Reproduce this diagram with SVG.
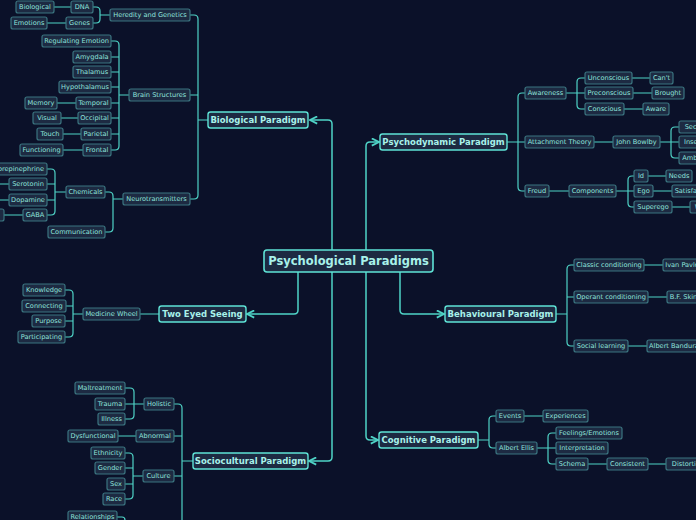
<svg xmlns="http://www.w3.org/2000/svg" width="696" height="520" viewBox="0 0 696 520">
<defs>
<style>
.s rect{fill:#1d2a42;stroke:#3b7580;stroke-width:1.2}
.s text{fill:#8fe3dc;font-family:"DejaVu Sans",sans-serif;font-size:6.6px;text-anchor:middle;dominant-baseline:central}
.m rect{fill:#1d2a42;stroke:#5fe3d6;stroke-width:1.4}
.m text{fill:#a8f1ea;font-family:"DejaVu Sans",sans-serif;font-size:8.5px;font-weight:bold;text-anchor:middle;dominant-baseline:central}
.c rect{fill:#1d2a42;stroke:#5fe3d6;stroke-width:1.6}
.c text{fill:#a8f1ea;font-family:"DejaVu Sans",sans-serif;font-size:11.5px;font-weight:bold;text-anchor:middle;dominant-baseline:central}
#conn path{fill:none;stroke:#4fd3c6;stroke-width:1.2}
#conn .a{stroke-width:1.5}
</style>
<marker id="ar" viewBox="0 0 10 10" refX="9" refY="5" markerWidth="6" markerHeight="6" orient="auto-start-reverse"><path d="M1,1 L9,5 L1,9" fill="none" stroke="#4fd3c6" stroke-width="2"/></marker>
</defs>
<rect width="696" height="520" fill="#0b1129"/>
<g id="conn">
<path class="a" d="M332,250 V124 Q332,120 328,120 H310" marker-end="url(#ar)"/>
<path class="a" d="M366,250 V146 Q366,142 370,142 H379" marker-end="url(#ar)"/>
<path class="a" d="M400,272 V310 Q400,314 404,314 H444" marker-end="url(#ar)"/>
<path class="a" d="M366,272 V436 Q366,440 370,440 H378" marker-end="url(#ar)"/>
<path class="a" d="M298,272 V310 Q298,314 294,314 H247" marker-end="url(#ar)"/>
<path class="a" d="M332,272 V457 Q332,461 328,461 H309" marker-end="url(#ar)"/>
<!-- biological -->
<path d="M208,120 H198 M190,15 H194 Q198,15 198,19 V195 Q198,199 194,199 H190 M190,95 H198"/>
<path d="M110,15 H100 M93,7 H96 Q100,7 100,11 V19 Q100,23 96,23 H93 M54,7 H71 M47,23 H66"/>
<path d="M129,95 H119 M111,41 H115 Q119,41 119,45 V146 Q119,150 115,150 H111 M111,57 H119 M111,72 H119 M111,87 H119 M111,103 H119 M111,118 H119 M111,134 H119 M57,103 H76 M61,118 H78 M63,134 H81 M63,150 H83"/>
<path d="M123,199 H113 M105,192 H109 Q113,192 113,196 V228 Q113,232 109,232 H105"/>
<path d="M66,192 H55 M47,169 H51 Q55,169 55,173 V211 Q55,215 51,215 H47 M47,184 H55 M47,200 H55 M0,184 H9 M0,200 H9 M4,215 H23"/>
<!-- psychodynamic -->
<path d="M507,142 H518 M525,93 H522 Q518,93 518,97 V187 Q518,191 522,191 H525 M518,142 H525"/>
<path d="M566,93 H577 M585,78 H581 Q577,78 577,82 V105 Q577,109 581,109 H585 M577,93 H585 M632,78 H650 M633,93 H652 M624,109 H643"/>
<path d="M594,142 H613 M660,142 H671 M679,127 H675 Q671,127 671,131 V154 Q671,158 675,158 H679 M671,142 H679"/>
<path d="M549,191 H569 M616,191 H628 M634,176 H632 Q628,176 628,180 V203 Q628,207 632,207 H634 M628,191 H634 M648,176 H666 M653,191 H672 M672,207 H690"/>
<!-- behavioural -->
<path d="M556,314 H567 M574,265 H571 Q567,265 567,269 V342 Q567,346 571,346 H574 M567,297 H574 M644,265 H663 M648,297 H667 M628,346 H647"/>
<!-- cognitive -->
<path d="M478,440 H489 M496,416 H493 Q489,416 489,420 V444 Q489,448 493,448 H496 M524,416 H543"/>
<path d="M537,448 H548 M556,433 H552 Q548,433 548,437 V460 Q548,464 552,464 H556 M548,448 H556 M588,464 H607 M648,464 H666"/>
<!-- two eyed -->
<path d="M159,314 H140 M83,314 H73 M65,290 H69 Q73,290 73,294 V333 Q73,337 69,337 H65 M66,306 H73 M65,321 H73"/>
<!-- sociocultural -->
<path d="M193,461 H182 M174,404 H178 Q182,404 182,408 V520 M174,436 H182 M174,476 H182"/>
<path d="M144,404 H134 M125,388 H130 Q134,388 134,392 V415 Q134,419 130,419 H125 M125,404 H134 M118,436 H136"/>
<path d="M143,476 H133 M125,453 H129 Q133,453 133,457 V495 Q133,499 129,499 H125 M125,468 H133 M125,484 H133 M117,517 H122 Q125,517 125,520"/>
</g>
<g id="center" class="c"><rect x="264" y="250" width="169" height="22" rx="3"/><text x="348.5" y="261">Psychological Paradigms</text></g>
<g id="bio" class="m"><rect x="208" y="112" width="100" height="16" rx="2.5"/><text x="258" y="120">Biological Paradigm</text></g>
<g id="psy" class="m"><rect x="380" y="134" width="127" height="16" rx="2.5"/><text x="443.5" y="142">Psychodynamic Paradigm</text></g>
<g id="beh" class="m"><rect x="445" y="306" width="111" height="16" rx="2.5"/><text x="500.5" y="314">Behavioural Paradigm</text></g>
<g id="cog" class="m"><rect x="379" y="432" width="99" height="16" rx="2.5"/><text x="428.5" y="440">Cognitive Paradigm</text></g>
<g id="two" class="m"><rect x="159" y="306" width="87" height="16" rx="2.5"/><text x="202.5" y="314">Two Eyed Seeing</text></g>
<g id="soc" class="m"><rect x="193" y="453" width="115" height="16" rx="2.5"/><text x="250.5" y="461">Sociocultural Paradigm</text></g>
<g class="s">
<g id="n1"><rect x="110" y="9" width="80" height="12" rx="2"/><text x="150" y="15">Heredity and Genetics</text></g>
<g id="n2"><rect x="71" y="1" width="22" height="12" rx="2"/><text x="82" y="7">DNA</text></g>
<g id="n3"><rect x="66" y="17" width="27" height="12" rx="2"/><text x="79.5" y="23">Genes</text></g>
<g id="n4"><rect x="16" y="1" width="38" height="12" rx="2"/><text x="35" y="7">Biological</text></g>
<g id="n5"><rect x="11" y="17" width="36" height="12" rx="2"/><text x="29" y="23">Emotions</text></g>
<g id="n6"><rect x="129" y="89" width="61" height="12" rx="2"/><text x="159.5" y="95">Brain Structures</text></g>
<g id="n7"><rect x="42" y="35" width="69" height="12" rx="2"/><text x="76.5" y="41">Regulating Emotion</text></g>
<g id="n8"><rect x="73" y="51" width="38" height="12" rx="2"/><text x="92" y="57">Amygdala</text></g>
<g id="n9"><rect x="73" y="66" width="38" height="12" rx="2"/><text x="92" y="72">Thalamus</text></g>
<g id="n10"><rect x="59" y="81" width="52" height="12" rx="2"/><text x="85" y="87">Hypothalamus</text></g>
<g id="n11"><rect x="76" y="97" width="35" height="12" rx="2"/><text x="93.5" y="103">Temporal</text></g>
<g id="n12"><rect x="78" y="112" width="33" height="12" rx="2"/><text x="94.5" y="118">Occipital</text></g>
<g id="n13"><rect x="81" y="128" width="30" height="12" rx="2"/><text x="96" y="134">Parietal</text></g>
<g id="n14"><rect x="83" y="144" width="28" height="12" rx="2"/><text x="97" y="150">Frontal</text></g>
<g id="n15"><rect x="25" y="97" width="32" height="12" rx="2"/><text x="41" y="103">Memory</text></g>
<g id="n16"><rect x="33" y="112" width="28" height="12" rx="2"/><text x="47" y="118">Visual</text></g>
<g id="n17"><rect x="37" y="128" width="26" height="12" rx="2"/><text x="50" y="134">Touch</text></g>
<g id="n18"><rect x="20" y="144" width="43" height="12" rx="2"/><text x="41.5" y="150">Functioning</text></g>
<g id="n19"><rect x="123" y="193" width="67" height="12" rx="2"/><text x="156.5" y="199">Neurotransmitters</text></g>
<g id="n20"><rect x="66" y="186" width="39" height="12" rx="2"/><text x="85.5" y="192">Chemicals</text></g>
<g id="n21"><rect x="48" y="226" width="57" height="12" rx="2"/><text x="76.5" y="232">Communication</text></g>
<g id="n22"><rect x="-10" y="163" width="57" height="12" rx="2"/><text x="18.5" y="169">Norepinephrine</text></g>
<g id="n23"><rect x="9" y="178" width="38" height="12" rx="2"/><text x="28" y="184">Serotonin</text></g>
<g id="n24"><rect x="9" y="194" width="38" height="12" rx="2"/><text x="28" y="200">Dopamine</text></g>
<g id="n25"><rect x="23" y="209" width="24" height="12" rx="2"/><text x="35" y="215">GABA</text></g>
<g id="n26"><rect x="-30" y="209" width="34" height="12" rx="2"/></g>
<g id="n27"><rect x="525" y="87" width="41" height="12" rx="2"/><text x="545.5" y="93">Awareness</text></g>
<g id="n28"><rect x="525" y="136" width="69" height="12" rx="2"/><text x="559.5" y="142">Attachment Theory</text></g>
<g id="n29"><rect x="525" y="185" width="24" height="12" rx="2"/><text x="537" y="191">Freud</text></g>
<g id="n30"><rect x="585" y="72" width="47" height="12" rx="2"/><text x="608.5" y="78">Unconscious</text></g>
<g id="n31"><rect x="585" y="87" width="48" height="12" rx="2"/><text x="609" y="93">Preconscious</text></g>
<g id="n32"><rect x="585" y="103" width="39" height="12" rx="2"/><text x="604.5" y="109">Conscious</text></g>
<g id="n33"><rect x="650" y="72" width="23" height="12" rx="2"/><text x="661.5" y="78">Can't</text></g>
<g id="n34"><rect x="652" y="87" width="32" height="12" rx="2"/><text x="668" y="93">Brought</text></g>
<g id="n35"><rect x="643" y="103" width="26" height="12" rx="2"/><text x="656" y="109">Aware</text></g>
<g id="n36"><rect x="613" y="136" width="47" height="12" rx="2"/><text x="636.5" y="142">John Bowlby</text></g>
<g id="n37"><rect x="679" y="121" width="34" height="12" rx="2"/><text x="696" y="127">Secure</text></g>
<g id="n38"><rect x="679" y="136" width="38" height="12" rx="2"/><text x="698" y="142">Insecure</text></g>
<g id="n39"><rect x="679" y="152" width="44" height="12" rx="2"/><text x="701" y="158">Ambivalent</text></g>
<g id="n40"><rect x="569" y="185" width="47" height="12" rx="2"/><text x="592.5" y="191">Components</text></g>
<g id="n41"><rect x="634" y="170" width="14" height="12" rx="2"/><text x="641" y="176">Id</text></g>
<g id="n42"><rect x="634" y="185" width="19" height="12" rx="2"/><text x="643.5" y="191">Ego</text></g>
<g id="n43"><rect x="634" y="201" width="38" height="12" rx="2"/><text x="653" y="207">Superego</text></g>
<g id="n44"><rect x="666" y="170" width="26" height="12" rx="2"/><text x="679" y="176">Needs</text></g>
<g id="n45"><rect x="672" y="185" width="44" height="12" rx="2"/><text x="694" y="191">Satisfaction</text></g>
<g id="n46"><rect x="690" y="201" width="30" height="12" rx="2"/><text x="705" y="207">Wants</text></g>
<g id="n47"><rect x="574" y="259" width="70" height="12" rx="2"/><text x="609" y="265">Classic conditioning</text></g>
<g id="n48"><rect x="574" y="291" width="74" height="12" rx="2"/><text x="611" y="297">Operant conditioning</text></g>
<g id="n49"><rect x="574" y="340" width="54" height="12" rx="2"/><text x="601" y="346">Social learning</text></g>
<g id="n50"><rect x="663" y="259" width="42" height="12" rx="2"/><text x="684" y="265">Ivan Pavlov</text></g>
<g id="n51"><rect x="667" y="291" width="44" height="12" rx="2"/><text x="689" y="297">B.F. Skinner</text></g>
<g id="n52"><rect x="647" y="340" width="54" height="12" rx="2"/><text x="674" y="346">Albert Bandura</text></g>
<g id="n53"><rect x="496" y="410" width="28" height="12" rx="2"/><text x="510" y="416">Events</text></g>
<g id="n54"><rect x="496" y="442" width="41" height="12" rx="2"/><text x="516.5" y="448">Albert Ellis</text></g>
<g id="n55"><rect x="543" y="410" width="45" height="12" rx="2"/><text x="565.5" y="416">Experiences</text></g>
<g id="n56"><rect x="556" y="427" width="66" height="12" rx="2"/><text x="589" y="433">Feelings/Emotions</text></g>
<g id="n57"><rect x="556" y="442" width="52" height="12" rx="2"/><text x="582" y="448">Interpretation</text></g>
<g id="n58"><rect x="556" y="458" width="32" height="12" rx="2"/><text x="572" y="464">Schema</text></g>
<g id="n59"><rect x="607" y="458" width="41" height="12" rx="2"/><text x="627.5" y="464">Consistent</text></g>
<g id="n60"><rect x="666" y="458" width="44" height="12" rx="2"/><text x="688" y="464">Distortion</text></g>
<g id="n61"><rect x="83" y="308" width="57" height="12" rx="2"/><text x="111.5" y="314">Medicine Wheel</text></g>
<g id="n62"><rect x="23" y="284" width="42" height="12" rx="2"/><text x="44" y="290">Knowledge</text></g>
<g id="n63"><rect x="22" y="300" width="44" height="12" rx="2"/><text x="44" y="306">Connecting</text></g>
<g id="n64"><rect x="32" y="315" width="33" height="12" rx="2"/><text x="48.5" y="321">Purpose</text></g>
<g id="n65"><rect x="18" y="331" width="47" height="12" rx="2"/><text x="41.5" y="337">Participating</text></g>
<g id="n66"><rect x="144" y="398" width="30" height="12" rx="2"/><text x="159" y="404">Holistic</text></g>
<g id="n67"><rect x="136" y="430" width="38" height="12" rx="2"/><text x="155" y="436">Abnormal</text></g>
<g id="n68"><rect x="143" y="470" width="31" height="12" rx="2"/><text x="158.5" y="476">Culture</text></g>
<g id="n69"><rect x="75" y="382" width="50" height="12" rx="2"/><text x="100" y="388">Maltreatment</text></g>
<g id="n70"><rect x="95" y="398" width="30" height="12" rx="2"/><text x="110" y="404">Trauma</text></g>
<g id="n71"><rect x="98" y="413" width="27" height="12" rx="2"/><text x="111.5" y="419">Illness</text></g>
<g id="n72"><rect x="68" y="430" width="50" height="12" rx="2"/><text x="93" y="436">Dysfunctional</text></g>
<g id="n73"><rect x="91" y="447" width="34" height="12" rx="2"/><text x="108" y="453">Ethnicity</text></g>
<g id="n74"><rect x="95" y="462" width="30" height="12" rx="2"/><text x="110" y="468">Gender</text></g>
<g id="n75"><rect x="107" y="478" width="18" height="12" rx="2"/><text x="116" y="484">Sex</text></g>
<g id="n76"><rect x="103" y="493" width="22" height="12" rx="2"/><text x="114" y="499">Race</text></g>
<g id="n77"><rect x="68" y="511" width="49" height="12" rx="2"/><text x="92.5" y="517">Relationships</text></g>
</g>
</svg>
